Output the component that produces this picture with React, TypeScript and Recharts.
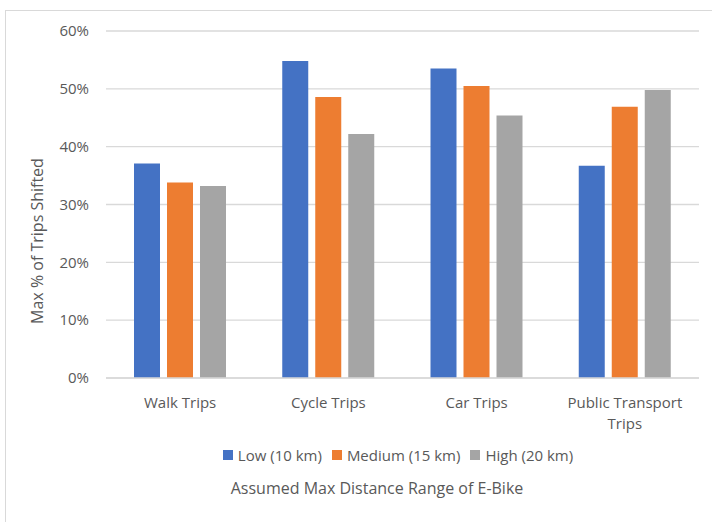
import React from "react";
import {
  BarChart,
  Bar,
  XAxis,
  YAxis,
  CartesianGrid,
  Legend,
  Customized,
  Text,
} from "recharts";

const CATEGORIES = ["Walk Trips", "Cycle Trips", "Car Trips", "Public Transport Trips"];
const LOW = [37.1, 54.8, 53.5, 36.7];
const MEDIUM = [33.8, 48.6, 50.5, 46.9];
const HIGH = [33.2, 42.2, 45.4, 49.8];
const Y_TICKS = [0, 10, 20, 30, 40, 50, 60];

const SERIES = [
  { key: "low", name: "Low (10 km)", color: "#4472C4" },
  { key: "medium", name: "Medium (15 km)", color: "#ED7D31" },
  { key: "high", name: "High (20 km)", color: "#A5A5A5" },
];

const FONT = "'Open Sans', 'Noto Sans', sans-serif";
const INK = "#595959";
const GRID = "#d9d9d9";

const data = CATEGORIES.map((name, i) => ({
  name,
  low: LOW[i],
  medium: MEDIUM[i],
  high: HIGH[i],
}));

const CategoryTick = (props: any) => {
  const { x, y, payload } = props;
  return (
    <Text
      x={x}
      y={y}
      width={140}
      textAnchor="middle"
      verticalAnchor="start"
      lineHeight={21}
      fill={INK}
      fontFamily={FONT}
      fontSize={15}
    >
      {payload.value}
    </Text>
  );
};

const LegendContent = () => (
  <div
    style={{
      display: "flex",
      justifyContent: "center",
      alignItems: "center",
      fontFamily: FONT,
      fontSize: 15,
      color: INK,
      whiteSpace: "nowrap",
    }}
  >
    {SERIES.map((s) => (
      <span key={s.key} style={{ display: "inline-flex", alignItems: "center", marginRight: 10 }}>
        <span style={{ width: 10, height: 10, background: s.color, marginRight: 5, display: "inline-block" }} />
        {s.name}
      </span>
    ))}
  </div>
);

const Titles = () => (
  <g>
    <text
      x={377}
      y={494}
      textAnchor="middle"
      fill={INK}
      fontFamily={FONT}
      fontSize={16}
    >
      Assumed Max Distance Range of E-Bike
    </text>
    <text
      x={43}
      y={241}
      transform="rotate(-90 43 241)"
      textAnchor="middle"
      fill={INK}
      fontFamily={FONT}
      fontSize={16}
    >
      Max % of Trips Shifted
    </text>
  </g>
);

export default function App() {
  return (
    <div style={{ position: "absolute", left: 0, top: 0, width: 712, height: 522, background: "#fff", overflow: "hidden" }}>
      <div
        style={{
          position: "absolute",
          left: 5,
          top: 10,
          width: 740,
          height: 540,
          border: `1px solid ${GRID}`,
          boxSizing: "border-box",
        }}
      />
      <BarChart
        width={712}
        height={522}
        data={data}
        margin={{ top: 31, right: 13, left: 0, bottom: 114 }}
        barSize={26}
        barGap={7}
      >
        <CartesianGrid vertical={false} stroke={GRID} strokeWidth={1.3} />
        <XAxis
          dataKey="name"
          height={30}
          tickLine={false}
          axisLine={{ stroke: GRID, strokeWidth: 1.3 }}
          tickMargin={13}
          interval={0}
          tick={<CategoryTick />}
        />
        <YAxis
          width={106}
          domain={[0, 60]}
          ticks={Y_TICKS}
          tickFormatter={(v: number) => `${v}%`}
          axisLine={false}
          tickLine={false}
          tickMargin={11}
          tick={{ fill: INK, fontFamily: FONT, fontSize: 15 }}
        />
        {SERIES.map((s) => (
          <Bar key={s.key} dataKey={s.key} name={s.name} fill={s.color} isAnimationActive={false} />
        ))}
        <Legend
          layout="horizontal"
          verticalAlign="middle"
          align="center"
          content={<LegendContent />}
          wrapperStyle={{ left: 106, width: 594, top: 445, bottom: "auto" }}
        />
        <Customized component={Titles} />
      </BarChart>
    </div>
  );
}
